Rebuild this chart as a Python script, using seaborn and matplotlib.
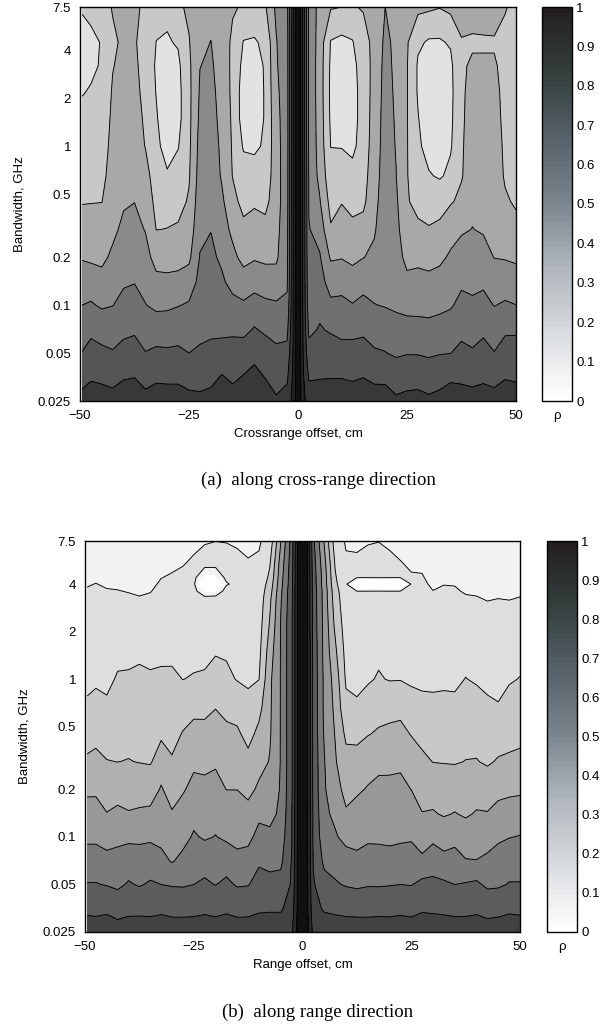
import numpy as np
import matplotlib
matplotlib.use("Agg")
import matplotlib.pyplot as plt
from matplotlib.colors import ListedColormap, Normalize
from matplotlib.cm import ScalarMappable
from matplotlib.ticker import FixedLocator, FixedFormatter, NullLocator
import seaborn as sns

# offsets of the grid columns (cm), shared by both panels
offset_cm = [-49.5, -47.5, -45, -42.5, -40, -37.5, -35, -32.5, -30, -27.5, -25,
             -22.5, -20, -17.5, -15, -12.5, -10, -7.5, -5, -2.5, -1, 0, 1,
             2.5, 5, 7.5, 10, 12.5, 15, 17.5, 20, 22.5, 25, 27.5, 30, 32.5,
             35, 37.5, 40, 42.5, 45, 47.5, 50]

# bandwidth rows (GHz), bottom to top
bw_a = [0.025, 0.035, 0.05, 0.07, 0.1, 0.14, 0.2, 0.3, 0.45, 0.65, 1, 1.5, 2.2, 3.2, 4.5, 7.5]
bw_b = [0.025, 0.035, 0.05, 0.07, 0.1, 0.14, 0.2, 0.3, 0.45, 0.65, 1, 1.5, 2.2, 3.2, 3.6, 4.0, 4.4, 5.5, 7.5]

# rho, one list per offset column (bottom -> top)
rho_a = [
    [0.73, 0.665, 0.603, 0.553, 0.5, 0.447, 0.392, 0.34, 0.294, 0.27, 0.245, 0.22, 0.195, 0.17, 0.17, 0.21],
    [0.745, 0.691, 0.634, 0.576, 0.51, 0.444, 0.384, 0.338, 0.296, 0.275, 0.251, 0.228, 0.207, 0.18, 0.18, 0.23],
    [0.74, 0.682, 0.62, 0.556, 0.488, 0.427, 0.379, 0.338, 0.298, 0.275, 0.255, 0.24, 0.225, 0.21, 0.205, 0.24],
    [0.73, 0.672, 0.607, 0.553, 0.498, 0.459, 0.418, 0.375, 0.35, 0.34, 0.33, 0.32, 0.31, 0.295, 0.28, 0.31],
    [0.75, 0.694, 0.63, 0.576, 0.527, 0.488, 0.458, 0.424, 0.385, 0.36, 0.35, 0.34, 0.335, 0.33, 0.32, 0.32],
    [0.76, 0.7, 0.641, 0.585, 0.539, 0.496, 0.465, 0.431, 0.398, 0.36, 0.34, 0.325, 0.315, 0.31, 0.305, 0.31],
    [0.73, 0.665, 0.603, 0.553, 0.503, 0.468, 0.433, 0.395, 0.363, 0.335, 0.297, 0.29, 0.285, 0.28, 0.28, 0.29],
    [0.745, 0.684, 0.617, 0.549, 0.48, 0.422, 0.365, 0.298, 0.27, 0.25, 0.23, 0.21, 0.195, 0.185, 0.198, 0.25],
    [0.745, 0.68, 0.613, 0.549, 0.483, 0.419, 0.362, 0.302, 0.254, 0.212, 0.15, 0.13, 0.13, 0.15, 0.19, 0.23],
    [0.745, 0.68, 0.617, 0.558, 0.496, 0.424, 0.366, 0.309, 0.268, 0.233, 0.195, 0.17, 0.17, 0.18, 0.21, 0.28],
    [0.73, 0.66, 0.6, 0.556, 0.51, 0.443, 0.38, 0.34, 0.31, 0.29, 0.28, 0.275, 0.275, 0.28, 0.295, 0.32],
    [0.72, 0.665, 0.61, 0.58, 0.555, 0.53, 0.504, 0.478, 0.46, 0.445, 0.435, 0.42, 0.41, 0.398, 0.37, 0.34],
    [0.73, 0.674, 0.618, 0.586, 0.564, 0.543, 0.52, 0.497, 0.48, 0.465, 0.455, 0.44, 0.43, 0.415, 0.402, 0.36],
    [0.76, 0.709, 0.63, 0.581, 0.547, 0.514, 0.483, 0.451, 0.419, 0.39, 0.38, 0.37, 0.36, 0.355, 0.345, 0.33],
    [0.735, 0.685, 0.634, 0.583, 0.522, 0.472, 0.424, 0.374, 0.327, 0.297, 0.29, 0.285, 0.28, 0.28, 0.285, 0.31],
    [0.76, 0.707, 0.64, 0.577, 0.514, 0.436, 0.372, 0.318, 0.273, 0.236, 0.19, 0.15, 0.15, 0.17, 0.196, 0.29],
    [0.78, 0.73, 0.669, 0.608, 0.536, 0.462, 0.389, 0.336, 0.285, 0.24, 0.18, 0.14, 0.14, 0.16, 0.19, 0.28],
    [0.75, 0.698, 0.642, 0.585, 0.519, 0.446, 0.379, 0.327, 0.27, 0.235, 0.215, 0.21, 0.21, 0.21, 0.22, 0.29],
    [0.71, 0.667, 0.619, 0.567, 0.512, 0.434, 0.385, 0.37, 0.36, 0.36, 0.365, 0.37, 0.38, 0.39, 0.395, 0.42],
    [0.74, 0.683, 0.626, 0.572, 0.516, 0.485, 0.475, 0.47, 0.46, 0.46, 0.455, 0.455, 0.455, 0.46, 0.46, 0.47],
    [0.84, 0.83, 0.82, 0.82, 0.82, 0.82, 0.82, 0.82, 0.82, 0.82, 0.82, 0.82, 0.82, 0.82, 0.82, 0.82],
    [0.98, 0.98, 0.98, 0.98, 0.98, 0.98, 0.98, 0.98, 0.98, 0.98, 0.98, 0.98, 0.98, 0.98, 0.98, 0.98],
    [0.84, 0.83, 0.82, 0.82, 0.82, 0.82, 0.82, 0.82, 0.82, 0.82, 0.82, 0.82, 0.82, 0.82, 0.82, 0.82],
    [0.75, 0.69, 0.63, 0.58, 0.54, 0.52, 0.51, 0.505, 0.49, 0.49, 0.48, 0.48, 0.48, 0.48, 0.48, 0.48],
    [0.75, 0.696, 0.651, 0.608, 0.573, 0.541, 0.508, 0.458, 0.406, 0.37, 0.36, 0.355, 0.35, 0.35, 0.355, 0.36],
    [0.75, 0.698, 0.644, 0.59, 0.52, 0.455, 0.388, 0.308, 0.267, 0.235, 0.198, 0.185, 0.18, 0.185, 0.195, 0.31],
    [0.75, 0.698, 0.631, 0.574, 0.522, 0.463, 0.395, 0.344, 0.294, 0.249, 0.195, 0.15, 0.15, 0.16, 0.18, 0.3],
    [0.745, 0.69, 0.633, 0.572, 0.505, 0.439, 0.377, 0.319, 0.27, 0.23, 0.175, 0.16, 0.16, 0.17, 0.195, 0.29],
    [0.76, 0.7, 0.638, 0.58, 0.524, 0.465, 0.398, 0.328, 0.28, 0.265, 0.25, 0.245, 0.245, 0.25, 0.26, 0.31],
    [0.745, 0.68, 0.611, 0.557, 0.503, 0.46, 0.416, 0.39, 0.37, 0.355, 0.345, 0.34, 0.335, 0.33, 0.33, 0.34],
    [0.745, 0.678, 0.603, 0.556, 0.494, 0.48, 0.47, 0.46, 0.455, 0.45, 0.445, 0.44, 0.435, 0.43, 0.42, 0.4],
    [0.715, 0.651, 0.587, 0.531, 0.485, 0.465, 0.445, 0.43, 0.415, 0.402, 0.395, 0.39, 0.385, 0.38, 0.38, 0.38],
    [0.725, 0.662, 0.595, 0.531, 0.472, 0.422, 0.37, 0.33, 0.31, 0.305, 0.305, 0.305, 0.305, 0.305, 0.31, 0.34],
    [0.73, 0.664, 0.594, 0.528, 0.472, 0.426, 0.377, 0.319, 0.265, 0.24, 0.22, 0.205, 0.19, 0.19, 0.215, 0.33],
    [0.716, 0.653, 0.586, 0.525, 0.469, 0.421, 0.368, 0.306, 0.254, 0.208, 0.16, 0.14, 0.14, 0.15, 0.19, 0.32],
    [0.73, 0.662, 0.595, 0.534, 0.477, 0.431, 0.38, 0.32, 0.255, 0.19, 0.15, 0.14, 0.14, 0.15, 0.19, 0.305],
    [0.745, 0.686, 0.599, 0.543, 0.49, 0.453, 0.414, 0.356, 0.29, 0.22, 0.19, 0.18, 0.175, 0.18, 0.21, 0.33],
    [0.74, 0.682, 0.623, 0.574, 0.526, 0.483, 0.439, 0.387, 0.322, 0.292, 0.288, 0.285, 0.285, 0.29, 0.295, 0.34],
    [0.735, 0.673, 0.609, 0.563, 0.514, 0.477, 0.44, 0.402, 0.375, 0.36, 0.35, 0.34, 0.33, 0.31, 0.29, 0.34],
    [0.74, 0.684, 0.631, 0.581, 0.529, 0.482, 0.434, 0.39, 0.375, 0.36, 0.345, 0.33, 0.32, 0.31, 0.29, 0.35],
    [0.735, 0.67, 0.603, 0.55, 0.497, 0.448, 0.398, 0.38, 0.36, 0.35, 0.34, 0.33, 0.32, 0.31, 0.29, 0.36],
    [0.75, 0.695, 0.64, 0.584, 0.511, 0.451, 0.393, 0.35, 0.31, 0.29, 0.285, 0.28, 0.28, 0.275, 0.27, 0.31],
    [0.74, 0.689, 0.639, 0.586, 0.501, 0.443, 0.382, 0.318, 0.29, 0.28, 0.27, 0.265, 0.26, 0.255, 0.25, 0.26],
]

# rho, one list per offset column (bottom -> top)
rho_b = [
    [0.75, 0.678, 0.605, 0.54, 0.48, 0.434, 0.382, 0.313, 0.259, 0.212, 0.18, 0.156, 0.133, 0.111, 0.104, 0.097, 0.089, 0.071, 0.06],
    [0.745, 0.674, 0.605, 0.54, 0.48, 0.434, 0.383, 0.323, 0.27, 0.225, 0.186, 0.161, 0.137, 0.114, 0.107, 0.101, 0.093, 0.075, 0.06],
    [0.755, 0.68, 0.595, 0.527, 0.461, 0.403, 0.353, 0.303, 0.255, 0.213, 0.181, 0.156, 0.133, 0.11, 0.103, 0.095, 0.087, 0.069, 0.06],
    [0.74, 0.66, 0.581, 0.531, 0.475, 0.418, 0.361, 0.299, 0.269, 0.241, 0.208, 0.175, 0.142, 0.11, 0.102, 0.092, 0.084, 0.066, 0.06],
    [0.745, 0.675, 0.609, 0.547, 0.479, 0.406, 0.355, 0.303, 0.271, 0.243, 0.21, 0.176, 0.142, 0.109, 0.098, 0.09, 0.082, 0.064, 0.06],
    [0.75, 0.674, 0.592, 0.544, 0.477, 0.413, 0.355, 0.297, 0.27, 0.245, 0.216, 0.183, 0.143, 0.104, 0.094, 0.085, 0.077, 0.06, 0.06],
    [0.745, 0.673, 0.61, 0.549, 0.483, 0.419, 0.353, 0.292, 0.265, 0.24, 0.21, 0.176, 0.142, 0.109, 0.098, 0.09, 0.082, 0.064, 0.06],
    [0.75, 0.681, 0.6, 0.524, 0.476, 0.443, 0.409, 0.342, 0.284, 0.252, 0.213, 0.181, 0.152, 0.123, 0.114, 0.106, 0.099, 0.081, 0.06],
    [0.745, 0.671, 0.592, 0.495, 0.45, 0.407, 0.36, 0.307, 0.273, 0.245, 0.212, 0.183, 0.155, 0.128, 0.12, 0.112, 0.105, 0.088, 0.063],
    [0.745, 0.67, 0.59, 0.522, 0.471, 0.432, 0.391, 0.348, 0.305, 0.256, 0.199, 0.175, 0.152, 0.129, 0.122, 0.116, 0.11, 0.096, 0.071],
    [0.745, 0.673, 0.6, 0.556, 0.51, 0.469, 0.427, 0.379, 0.328, 0.276, 0.205, 0.179, 0.158, 0.137, 0.131, 0.125, 0.119, 0.107, 0.085],
    [0.75, 0.681, 0.617, 0.552, 0.49, 0.457, 0.421, 0.376, 0.327, 0.276, 0.208, 0.181, 0.159, 0.139, 0.03, -0.2, 0.03, 0.14, 0.09],
    [0.745, 0.672, 0.597, 0.55, 0.503, 0.466, 0.429, 0.387, 0.341, 0.299, 0.236, 0.191, 0.17, 0.148, 0.03, -0.2, 0.03, 0.14, 0.099],
    [0.75, 0.684, 0.621, 0.55, 0.485, 0.443, 0.399, 0.359, 0.319, 0.277, 0.22, 0.187, 0.166, 0.146, 0.14, 0.09, 0.12, 0.117, 0.098],
    [0.745, 0.67, 0.59, 0.522, 0.474, 0.437, 0.399, 0.357, 0.315, 0.26, 0.195, 0.175, 0.156, 0.138, 0.132, 0.127, 0.122, 0.111, 0.093],
    [0.745, 0.672, 0.595, 0.534, 0.475, 0.426, 0.376, 0.323, 0.27, 0.222, 0.187, 0.167, 0.148, 0.13, 0.124, 0.119, 0.114, 0.104, 0.081],
    [0.75, 0.687, 0.636, 0.586, 0.531, 0.476, 0.415, 0.366, 0.323, 0.272, 0.198, 0.175, 0.16, 0.145, 0.14, 0.13, 0.123, 0.11, 0.09],
    [0.75, 0.69, 0.63, 0.57, 0.52, 0.47, 0.43, 0.405, 0.39, 0.385, 0.38, 0.35, 0.31, 0.28, 0.26, 0.24, 0.22, 0.19, 0.14],
    [0.75, 0.69, 0.63, 0.58, 0.55, 0.52, 0.51, 0.505, 0.505, 0.505, 0.505, 0.505, 0.505, 0.49, 0.48, 0.47, 0.46, 0.44, 0.395],
    [0.78, 0.74, 0.71, 0.705, 0.69, 0.69, 0.68, 0.68, 0.68, 0.68, 0.68, 0.68, 0.68, 0.67, 0.67, 0.66, 0.66, 0.65, 0.64],
    [0.94, 0.93, 0.93, 0.93, 0.93, 0.93, 0.93, 0.93, 0.93, 0.93, 0.93, 0.93, 0.93, 0.93, 0.93, 0.93, 0.93, 0.93, 0.93],
    [0.98, 0.98, 0.98, 0.98, 0.98, 0.98, 0.98, 0.98, 0.98, 0.98, 0.98, 0.98, 0.98, 0.98, 0.98, 0.98, 0.98, 0.98, 0.98],
    [0.94, 0.93, 0.93, 0.93, 0.93, 0.93, 0.93, 0.93, 0.93, 0.93, 0.93, 0.93, 0.93, 0.93, 0.93, 0.93, 0.93, 0.93, 0.93],
    [0.77, 0.73, 0.71, 0.69, 0.68, 0.68, 0.67, 0.67, 0.67, 0.67, 0.67, 0.67, 0.66, 0.66, 0.66, 0.65, 0.65, 0.64, 0.62],
    [0.75, 0.69, 0.63, 0.58, 0.54, 0.52, 0.51, 0.505, 0.49, 0.48, 0.48, 0.47, 0.47, 0.46, 0.46, 0.45, 0.45, 0.43, 0.39],
    [0.75, 0.68, 0.61, 0.56, 0.51, 0.48, 0.44, 0.41, 0.395, 0.38, 0.36, 0.32, 0.28, 0.25, 0.24, 0.22, 0.21, 0.19, 0.15],
    [0.745, 0.674, 0.592, 0.535, 0.473, 0.41, 0.369, 0.328, 0.28, 0.222, 0.187, 0.168, 0.151, 0.134, 0.128, 0.124, 0.119, 0.109, 0.091],
    [0.745, 0.671, 0.582, 0.52, 0.471, 0.43, 0.386, 0.331, 0.274, 0.207, 0.187, 0.168, 0.15, 0.133, 0.105, -0.2, 0.105, 0.108, 0.089],
    [0.745, 0.67, 0.592, 0.535, 0.484, 0.446, 0.407, 0.352, 0.295, 0.235, 0.19, 0.171, 0.153, 0.136, 0.105, -0.2, 0.105, 0.111, 0.097],
    [0.745, 0.674, 0.591, 0.532, 0.484, 0.453, 0.421, 0.374, 0.311, 0.262, 0.207, 0.182, 0.162, 0.143, 0.108, -0.2, 0.108, 0.115, 0.099],
    [0.745, 0.672, 0.595, 0.527, 0.481, 0.451, 0.42, 0.377, 0.323, 0.263, 0.195, 0.175, 0.156, 0.137, 0.105, -0.2, 0.105, 0.11, 0.091],
    [0.75, 0.677, 0.6, 0.535, 0.485, 0.455, 0.423, 0.381, 0.328, 0.271, 0.196, 0.173, 0.152, 0.131, 0.105, -0.2, 0.105, 0.102, 0.075],
    [0.745, 0.671, 0.596, 0.542, 0.488, 0.446, 0.399, 0.347, 0.295, 0.232, 0.187, 0.165, 0.144, 0.123, 0.116, 0.111, 0.105, 0.09, 0.065],
    [0.755, 0.688, 0.623, 0.518, 0.454, 0.403, 0.362, 0.319, 0.269, 0.219, 0.184, 0.162, 0.142, 0.121, 0.115, 0.109, 0.104, 0.088, 0.063],
    [0.75, 0.685, 0.622, 0.552, 0.476, 0.408, 0.356, 0.298, 0.256, 0.217, 0.183, 0.157, 0.132, 0.108, 0.101, 0.092, 0.084, 0.066, 0.06],
    [0.75, 0.68, 0.614, 0.527, 0.455, 0.391, 0.346, 0.296, 0.258, 0.219, 0.185, 0.16, 0.137, 0.114, 0.106, 0.099, 0.092, 0.074, 0.06],
    [0.745, 0.673, 0.6, 0.538, 0.467, 0.404, 0.35, 0.293, 0.253, 0.217, 0.184, 0.159, 0.135, 0.112, 0.105, 0.098, 0.09, 0.072, 0.06],
    [0.745, 0.674, 0.607, 0.506, 0.443, 0.389, 0.347, 0.302, 0.267, 0.236, 0.202, 0.168, 0.136, 0.106, 0.096, 0.088, 0.08, 0.06, 0.06],
    [0.75, 0.681, 0.617, 0.503, 0.453, 0.407, 0.359, 0.304, 0.265, 0.23, 0.191, 0.161, 0.132, 0.104, 0.094, 0.086, 0.078, 0.06, 0.06],
    [0.74, 0.666, 0.582, 0.518, 0.46, 0.405, 0.346, 0.289, 0.25, 0.214, 0.18, 0.152, 0.124, 0.098, 0.088, 0.08, 0.072, 0.06, 0.06],
    [0.745, 0.671, 0.586, 0.536, 0.484, 0.428, 0.372, 0.308, 0.254, 0.206, 0.175, 0.149, 0.124, 0.101, 0.09, 0.082, 0.074, 0.06, 0.06],
    [0.755, 0.682, 0.605, 0.553, 0.497, 0.44, 0.378, 0.313, 0.268, 0.231, 0.191, 0.159, 0.128, 0.099, 0.089, 0.081, 0.073, 0.06, 0.06],
    [0.75, 0.678, 0.605, 0.555, 0.504, 0.444, 0.383, 0.32, 0.274, 0.24, 0.203, 0.167, 0.134, 0.103, 0.093, 0.085, 0.077, 0.06, 0.06],
]

bw_ticks = [0.025, 0.05, 0.1, 0.2, 0.5, 1, 2, 4, 7.5]
bw_labels = ["0.025", "0.05", "0.1", "0.2", "0.5", "1", "2", "4", "7.5"]
offset_ticks = [-50, -25, 0, 25, 50]
rho_ticks = [0, 0.1, 0.2, 0.3, 0.4, 0.5, 0.6, 0.7, 0.8, 0.9, 1]
rho_labels = ["0", "0.1", "0.2", "0.3", "0.4", "0.5", "0.6", "0.7", "0.8", "0.9", "1"]
line_levels = [0.1, 0.2, 0.3, 0.4, 0.5, 0.6, 0.7, 0.8, 0.9]

sns.set_theme(style="white")
plt.rcParams["font.family"] = ["Liberation Sans", "DejaVu Sans"]
plt.rcParams["axes.unicode_minus"] = True

fill_a = ["#ffffff", "#e2e2e2", "#c8c8c8", "#a8a8a8", "#8a8a8a",
          "#707070", "#555555", "#383838", "#222222", "#101010"]
fill_b = ["#ffffff", "#f2f2f2", "#dedede", "#c8c8c8", "#b0b0b0", "#989898",
          "#7a7a7a", "#5c5c5c", "#424242", "#2a2a2a", "#101010"]
levels_a = [0, 0.1, 0.2, 0.3, 0.4, 0.5, 0.6, 0.7, 0.8, 0.9, 1.0]
levels_b = [-1, 0.05, 0.1, 0.2, 0.3, 0.4, 0.5, 0.6, 0.7, 0.8, 0.9, 1.0]

cbar_cmap = ListedColormap(sns.blend_palette(
    ["#ffffff", "#d8dbdf", "#b1b7bd", "#7c868e", "#58626a", "#35403e", "#231f20"], 64))

fig = plt.figure(figsize=(6.15, 10.24), dpi=100)
fs = 9.5

panels = [
    dict(pos=[80 / 615, 1 - 401 / 1024, 436 / 615, 394 / 1024],
         cpos=[542 / 615, 1 - 401 / 1024, 30 / 615, 394 / 1024],
         bw=bw_a, rho=rho_a, levels=levels_a, colors=fill_a,
         xlabel="Crossrange offset, cm", caption="(a)  along cross-range direction",
         cap_y=1 - 480 / 1024),
    dict(pos=[85 / 615, 1 - 932 / 1024, 435 / 615, 391 / 1024],
         cpos=[547 / 615, 1 - 932 / 1024, 30 / 615, 391 / 1024],
         bw=bw_b, rho=rho_b, levels=levels_b, colors=fill_b,
         xlabel="Range offset, cm", caption="(b)  along range direction",
         cap_y=1 - 1012 / 1024),
]

for p in panels:
    ax = fig.add_axes(p["pos"])
    X, Y = np.meshgrid(offset_cm, p["bw"])
    Z = np.array(p["rho"]).T
    ax.contourf(X, Y, Z, levels=p["levels"], colors=p["colors"])
    ax.contour(X, Y, Z, levels=line_levels, colors="black", linewidths=0.65)
    ax.set_yscale("log")
    ax.set_xlim(-50, 50)
    ax.set_ylim(0.025, 7.5)
    ax.set_facecolor("white")
    ax.yaxis.set_major_locator(FixedLocator(bw_ticks))
    ax.yaxis.set_major_formatter(FixedFormatter(bw_labels))
    ax.yaxis.set_minor_locator(NullLocator())
    ax.xaxis.set_major_locator(FixedLocator(offset_ticks))
    ax.tick_params(direction="in", length=3.5, width=0.7, top=True, right=True,
                   labelsize=fs, pad=6.5, colors="black")
    for s in ax.spines.values():
        s.set_color("black")
        s.set_linewidth(1.0)
    ax.set_xlabel(p["xlabel"], fontsize=fs, color="black")
    ax.xaxis.set_label_coords(0.5, -0.068)
    ax.set_ylabel("Bandwidth, GHz", fontsize=fs, color="black")
    ax.yaxis.set_label_coords(-0.125, 0.5)

    cax = fig.add_axes(p["cpos"])
    cb = fig.colorbar(ScalarMappable(Normalize(0, 1), cbar_cmap), cax=cax, ticks=rho_ticks)
    cb.ax.set_yticklabels(rho_labels)
    cax.tick_params(direction="in", length=3, width=0.7, left=True, right=True,
                    labelsize=fs, pad=3, colors="black")
    cb.outline.set_edgecolor("black")
    cb.outline.set_linewidth(1.0)
    cax.text(0.5, -0.022, "ρ", transform=cax.transAxes, ha="center", va="top",
             fontsize=fs, color="black")

    fig.text(0.517, p["cap_y"], p["caption"], ha="center", va="center",
             fontsize=13.5, family=["Liberation Serif", "DejaVu Serif"], color="black")

fig.savefig("out.png", dpi=100, facecolor="white")
